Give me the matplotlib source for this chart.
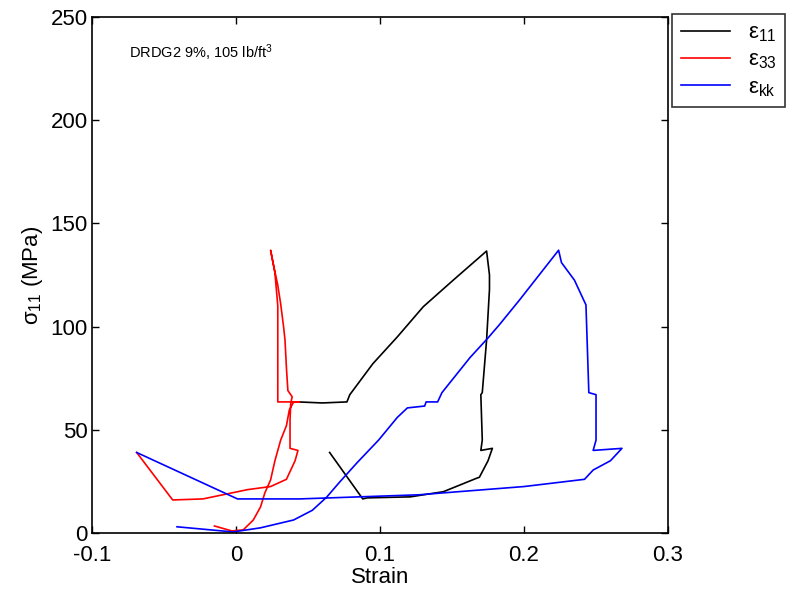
import matplotlib
matplotlib.use('Agg')
import matplotlib.pyplot as plt

# strain / stress traces
e11_x = [0.043, 0.060, 0.077, 0.079, 0.095, 0.112, 0.130, 0.151, 0.174,
         0.176, 0.176, 0.174, 0.171, 0.170, 0.171, 0.170, 0.178, 0.175, 0.169,
         0.167, 0.144, 0.121, 0.091, 0.088, 0.065]
e11_y = [63.5, 63.0, 63.5, 67, 82, 95, 109.6, 122.6, 136.6,
         125, 118, 93.5, 68, 67, 45, 40, 41, 35, 27,
         26.5, 20, 17.5, 17, 16.5, 39]

e33_x = [-0.015, -0.003, 0.005, 0.012, 0.017, 0.020, 0.024, 0.027, 0.031, 0.035,
         0.037, 0.040, 0.044, 0.029, 0.029, 0.029, 0.027, 0.024, 0.026, 0.029,
         0.031, 0.033, 0.034, 0.035, 0.036, 0.039, 0.038, 0.0375, 0.0375, 0.043,
         0.041, 0.035, 0.024, 0.008, -0.023, -0.044, -0.069]
e33_y = [3.4, 1.0, 1.5, 6.3, 12.6, 19.4, 25.7, 35, 45, 52,
         59.6, 63.5, 63.5, 63.5, 90, 110, 126, 137, 130, 120,
         111, 100, 93.5, 80, 69, 66, 63, 55, 41, 40,
         35, 26, 22.5, 21, 16.5, 16, 39]

ekk_x = [-0.041, -0.002, 0.017, 0.040, 0.053, 0.063, 0.072, 0.084, 0.099, 0.112,
         0.119, 0.131, 0.132, 0.140, 0.143, 0.1625, 0.175, 0.183, 0.197, 0.224,
         0.226, 0.235, 0.238, 0.243, 0.245, 0.250, 0.250, 0.248, 0.268, 0.260,
         0.248, 0.242, 0.200, 0.127, 0.044, 0.001, -0.069]
ekk_y = [3, 0.5, 2.5, 6.3, 11, 17.4, 24.7, 34, 45, 56,
         60.6, 61.5, 63.5, 63.5, 68, 85, 94.5, 101, 113, 137,
         131, 122.5, 118, 110.5, 68, 67, 45, 40, 41, 35,
         30.5, 26, 22.5, 18.5, 16.5, 16.5, 39]

labels = ['ε$_{11}$', 'ε$_{33}$', 'ε$_{kk}$']
colors = ['black', 'red', 'blue']

plt.rcParams['font.family'] = ['Liberation Sans', 'DejaVu Sans']
plt.rcParams['mathtext.fontset'] = 'custom'
plt.rcParams['mathtext.rm'] = 'Liberation Sans'
plt.rcParams['mathtext.it'] = 'Liberation Sans'

fig = plt.figure(figsize=(8.01, 6.0), dpi=100)
ax = fig.add_axes([0.1149, 0.1117, 0.7191, 0.86])

lines = []
for x, y, c in zip([e11_x, e33_x, ekk_x], [e11_y, e33_y, ekk_y], colors):
    ln, = ax.plot(x, y, color=c, lw=1.2)
    lines.append(ln)

ax.set_xlim(-0.1, 0.3)
ax.set_ylim(0, 250)
ax.set_xticks([-0.1, 0, 0.1, 0.2, 0.3])
ax.set_xticklabels(['-0.1', '0', '0.1', '0.2', '0.3'])
ax.set_yticks([0, 50, 100, 150, 200, 250])
ax.tick_params(direction='in', top=True, right=True, labelsize=16, length=5, width=1)
ax.tick_params(axis='x', pad=8.5)
ax.tick_params(axis='y', pad=3)
for s in ax.spines.values():
    s.set_linewidth(1.2)

ax.set_xlabel('Strain', fontsize=16, labelpad=1)
ax.set_ylabel('σ$_{11}$ (MPa)', fontsize=16, labelpad=4)
ax.text(0.065, 0.93, 'DRDG2 9%, 105 lb/ft$^{3}$', transform=ax.transAxes,
        fontsize=10.5, va='center')

leg = fig.legend(lines, labels, loc='upper left', bbox_to_anchor=(0.839, 0.977),
                 fontsize=16, frameon=True, fancybox=False, edgecolor='black',
                 handlelength=2.2, borderpad=0.4, labelspacing=0.25,
                 borderaxespad=0)
leg.get_frame().set_linewidth(1.2)

fig.savefig('out.png', dpi=100)
